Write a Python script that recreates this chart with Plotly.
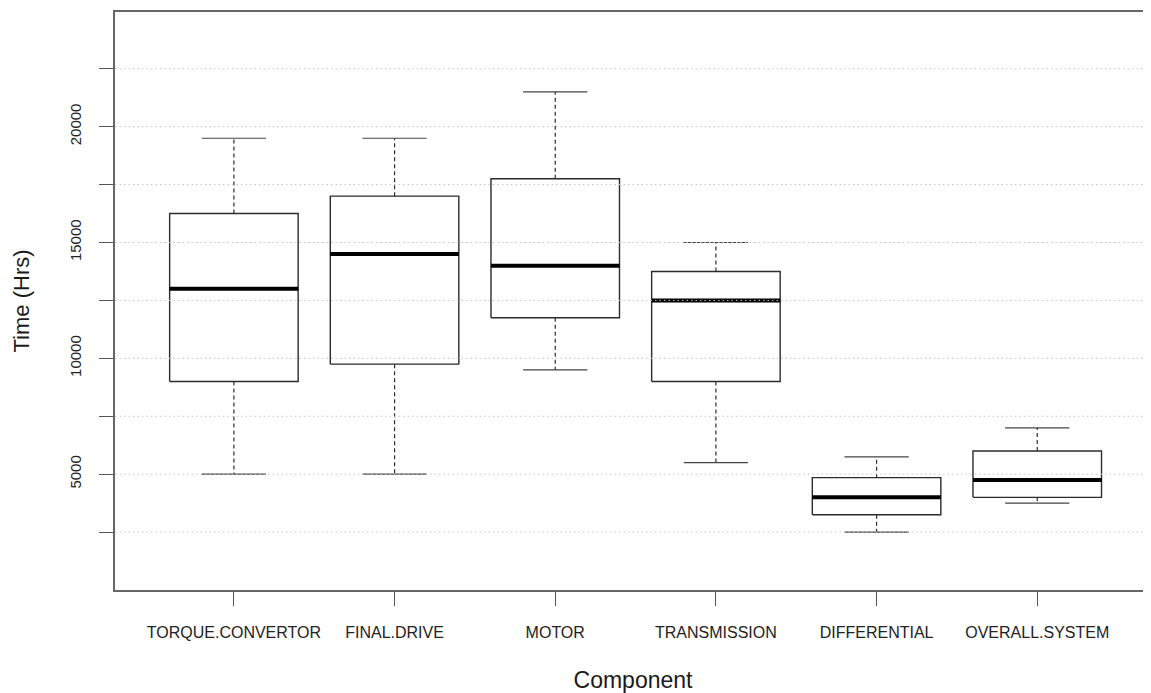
import plotly.graph_objects as go

categories = ["TORQUE.CONVERTOR", "FINAL.DRIVE", "MOTOR", "TRANSMISSION", "DIFFERENTIAL", "OVERALL.SYSTEM"]
lower_whisker = [5000, 5000, 9500, 5500, 2500, 3750]
q1 = [9000, 9750, 11750, 9000, 3250, 4000]
median = [13000, 14500, 14000, 12500, 4000, 4750]
q3 = [16250, 17000, 17750, 13750, 4850, 6000]
upper_whisker = [19500, 19500, 21500, 15000, 5750, 7000]

y_ticks = [2500, 5000, 7500, 10000, 12500, 15000, 17500, 20000, 22500]
y_tick_text = ["", "5000", "", "10000", "", "15000", "", "20000", ""]

BOX_HALF = 0.4
CAP_HALF = 0.2
LINE_COL = "#2b2b2b"
FONT = "Liberation Sans, Arial, sans-serif"

fig = go.Figure()
xs = list(range(1, len(categories) + 1))

for i, x in enumerate(xs):
    # whiskers (dashed)
    fig.add_trace(go.Scatter(x=[x, x, None, x, x],
                             y=[q3[i], upper_whisker[i], None, q1[i], lower_whisker[i]],
                             mode="lines", line=dict(color=LINE_COL, width=1.2, dash="4px,3px"),
                             hoverinfo="skip", showlegend=False))
    # caps
    fig.add_trace(go.Scatter(x=[x - CAP_HALF, x + CAP_HALF, None, x - CAP_HALF, x + CAP_HALF],
                             y=[upper_whisker[i], upper_whisker[i], None, lower_whisker[i], lower_whisker[i]],
                             mode="lines", line=dict(color="#444444", width=1.2),
                             hoverinfo="skip", showlegend=False))
    # box
    fig.add_trace(go.Scatter(x=[x - BOX_HALF, x + BOX_HALF, x + BOX_HALF, x - BOX_HALF, x - BOX_HALF],
                             y=[q1[i], q1[i], q3[i], q3[i], q1[i]],
                             mode="lines", line=dict(color=LINE_COL, width=1.4),
                             hoverinfo="skip", showlegend=False))
    # median
    fig.add_trace(go.Scatter(x=[x - BOX_HALF, x + BOX_HALF], y=[median[i], median[i]],
                             mode="lines", line=dict(color="#000000", width=4),
                             hoverinfo="skip", showlegend=False))

# dotted grid drawn above the boxes (as in base R grid())
for v in y_ticks:
    fig.add_shape(type="line", xref="paper", yref="y", x0=0, x1=1, y0=v, y1=v,
                  line=dict(color="#c4c4c4", width=1, dash="1.5px,3px"), layer="above")

fig.update_layout(
    width=1143, height=685,
    margin=dict(l=107, r=0, t=4, b=103),
    plot_bgcolor="white", paper_bgcolor="white",
    font=dict(family=FONT, color="#333333"),
    showlegend=False,
    xaxis=dict(range=[0.26, 6.708], tickmode="array", tickvals=xs, ticktext=categories,
               showgrid=False, zeroline=False, showline=True, linecolor="#666666", linewidth=1.5,
               mirror=True, ticks="outside", ticklen=14, tickwidth=1.3, tickcolor="#555555",
               tickfont=dict(size=16, family=FONT, color="#222222"), ticklabelstandoff=13,
               title=dict(text="Component", font=dict(size=23, family=FONT, color="#1a1a1a"), standoff=32)),
    yaxis=dict(range=[0, 24950], tickmode="array", tickvals=y_ticks, ticktext=y_tick_text,
               tickangle=-90, showgrid=False, zeroline=False, showline=True, linecolor="#666666",
               linewidth=1.5, ticks="outside", ticklen=14, tickwidth=1.3, tickcolor="#555555",
               tickfont=dict(size=15, family=FONT, color="#222222"), ticklabelstandoff=12,
               title=dict(text="Time (Hrs)", font=dict(size=22, family=FONT, color="#1a1a1a"), standoff=32)),
)

fig.write_html("out.html", default_width="1143px", default_height="685px")
